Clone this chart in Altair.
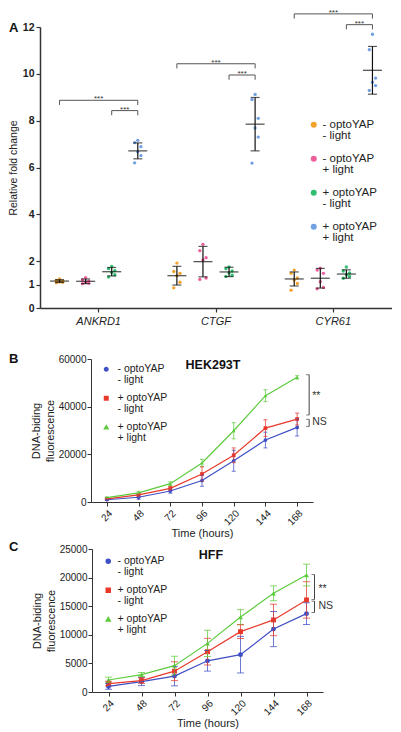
import altair as alt
import pandas as pd

FONT = "Liberation Sans"
INK = "#222222"

# ---------------- Panel A data ----------------
genes = ["ANKRD1", "CTGF", "CYR61"]
conditions = ["- optoYAP|- light", "- optoYAP|+ light", "+ optoYAP|- light", "+ optoYAP|+ light"]
cond_colors = ["#F5A22B", "#EE5E9B", "#30BF70", "#70A0E3"]

ankrd1_points = [
    [1.24, 1.18, 1.15, 1.12, 1.10, 1.08],
    [1.30, 1.20, 1.15, 1.10, 1.06, 1.04],
    [1.78, 1.68, 1.60, 1.52, 1.42, 1.32],
    [7.16, 7.06, 6.89, 6.67, 6.51, 6.20],
]
ctgf_points = [
    [1.92, 1.56, 1.48, 1.38, 1.10, 0.86],
    [2.72, 2.45, 2.15, 2.05, 1.28, 1.22],
    [1.75, 1.68, 1.58, 1.50, 1.40, 1.35],
    [9.12, 8.90, 8.10, 7.69, 7.30, 6.19],
]
cyr61_points = [
    [1.62, 1.48, 1.28, 1.20, 1.05, 0.76],
    [1.70, 1.62, 1.48, 1.12, 0.88, 0.82],
    [1.75, 1.58, 1.50, 1.42, 1.35, 1.27],
    [11.69, 11.03, 9.82, 9.64, 9.50, 9.29],
]
ankrd1_mean = [1.15, 1.14, 1.55, 6.71]
ankrd1_sd = [0.06, 0.10, 0.18, 0.34]
ctgf_mean = [1.38, 1.98, 1.54, 7.85]
ctgf_sd = [0.40, 0.65, 0.20, 1.14]
cyr61_mean = [1.24, 1.27, 1.45, 10.15]
cyr61_sd = [0.30, 0.42, 0.18, 1.02]
bracket_all_y = [8.87, 10.43, 12.56]    # - optoYAP - light  vs  + optoYAP + light
bracket_light_y = [8.43, 9.95, 12.10]   # + optoYAP - light  vs  + optoYAP + light
bracket_labels = ["***", "***", "***"]
jitter_slots = [0, -1, 1, 0, 1, -1]

# ---------------- Panels B / C data ----------------
time_labels = ["24", "48", "72", "96", "120", "144", "168"]
series = ["- optoYAP|- light", "+ optoYAP|- light", "+ optoYAP|+ light"]
series_colors = ["#3F4FC4", "#E8392B", "#5DCB3E"]
series_shapes = ["circle", "square", "triangle-up"]

hek_blue = [950, 2000, 4600, 9000, 17300, 26000, 31300]
hek_blue_err = [300, 900, 900, 2400, 4400, 3300, 3600]
hek_red = [1350, 3000, 5700, 11750, 19600, 31000, 34800]
hek_red_err = [300, 600, 800, 3000, 3100, 3500, 2500]
hek_green = [1800, 3800, 7700, 16400, 29900, 44600, 52300]
hek_green_err = [300, 700, 800, 1500, 3400, 2500, 700]
hek_sig_top = [53400, 34700]
hek_sig_bottom = [36500, 31700]
hek_sig_mid = [44600, 33400]
hek_sig_labels = ["**", "NS"]

hff_blue = [970, 1820, 2780, 5450, 6530, 11000, 13700]
hff_blue_err = [500, 700, 1700, 1800, 3200, 3070, 1900]
hff_red = [1480, 2000, 3640, 7050, 10550, 12600, 16100]
hff_red_err = [400, 500, 1650, 2330, 1200, 2750, 3180]
hff_green = [2100, 3050, 4600, 8500, 13100, 17250, 20450]
hff_green_err = [500, 350, 1650, 2300, 1300, 1300, 1900]
hff_sig_top = [20530, 15880]
hff_sig_bottom = [16160, 13900]
hff_sig_mid = [18030, 15030]
hff_sig_labels = ["**", "NS"]

# ---------------- Panel A ----------------
rows = []
for gene, groups in zip(genes, [ankrd1_points, ctgf_points, cyr61_points]):
    for ci, (cond, vals) in enumerate(zip(conditions, groups)):
        for slot, v in zip(jitter_slots, vals):
            rows.append({"gene": gene, "cond": cond, "value": v, "slot": slot, "cpos": ci + 0.5})
df_pts = pd.DataFrame(rows)

rows = []
for gene, means, sds in zip(genes, [ankrd1_mean, ctgf_mean, cyr61_mean],
                            [ankrd1_sd, ctgf_sd, cyr61_sd]):
    for ci, (cond, m, s) in enumerate(zip(conditions, means, sds)):
        rows.append({"gene": gene, "cond": cond, "mean": m, "lo": m - s, "hi": m + s, "cpos": ci + 0.5})
df_stats = pd.DataFrame(rows)

LEG = 0.2
rows = []
for gene, ya, yl in zip(genes, bracket_all_y, bracket_light_y):
    for bid, c0, c1, yv in [("all", 0, 3, ya), ("light", 2, 3, yl)]:
        p0, p1 = c0 + 0.5, c1 + 0.5
        for seq, (xo, yy) in enumerate([(p0, yv - LEG), (p0, yv), (p1, yv), (p1, yv - LEG)]):
            rows.append({"gene": gene, "bid": gene + bid, "cpos": xo, "y": yy, "seq": seq})
df_br = pd.DataFrame(rows)

rows = []
for gene, ya, yl, lab in zip(genes, bracket_all_y, bracket_light_y, bracket_labels):
    rows.append({"gene": gene, "cpos": 2.0, "y": ya, "label": lab})
    rows.append({"gene": gene, "cpos": 3.0, "y": yl, "label": lab})
df_star = pd.DataFrame(rows)

axisXA = alt.Axis(title=None, labelAngle=0, labelFontStyle="italic", labelFontSize=11,
                  tickSize=4, domainWidth=1.5, tickWidth=1.2, labelPadding=3)
axisYA = alt.Axis(values=[0, 1, 2, 4, 6, 8, 10, 12], title="Relative fold change",
                  labelFontWeight="bold", labelFontSize=10.5, tickSize=4, domainWidth=1.5,
                  tickWidth=1.2, titleFontSize=10.5, titlePadding=4, labelPadding=2)
xA = alt.X("gene:N", sort=genes, scale=alt.Scale(paddingInner=0, paddingOuter=0), axis=axisXA)
xo_scale = alt.Scale(domain=[-0.25, 4.25], nice=False, zero=False)
yscaleA = alt.Scale(domain=[0, 12], nice=False)


def yA(field):
    return alt.Y(f"{field}:Q", scale=yscaleA, axis=axisYA)


legA = alt.Legend(orient="none", legendX=268, legendY=92, title=None,
                  labelExpr="split(datum.label, '|')", labelFontSize=11.5, labelColor=INK,
                  symbolType="circle", symbolSize=36, rowPadding=10, labelOffset=3, padding=0)

pointsA = alt.Chart(df_pts).transform_calculate(
    xo="datum.cpos + datum.slot * 0.12"
).mark_point(filled=True, size=11, opacity=1).encode(
    x=xA, xOffset=alt.XOffset("xo:Q", scale=xo_scale), y=yA("value"),
    color=alt.Color("cond:N", sort=conditions,
                    scale=alt.Scale(domain=conditions, range=cond_colors), legend=legA),
)
statbase = alt.Chart(df_stats)
xoff = alt.XOffset("cpos:Q", scale=xo_scale)
errA = statbase.mark_rule(color="#111", strokeWidth=1.2).encode(
    x=xA, xOffset=xoff, y=yA("lo"), y2="hi:Q")
capLoA = statbase.mark_tick(color="#111", size=9, thickness=1.2).encode(x=xA, xOffset=xoff, y=yA("lo"))
capHiA = statbase.mark_tick(color="#111", size=9, thickness=1.2).encode(x=xA, xOffset=xoff, y=yA("hi"))
meanA = statbase.mark_tick(color="#111", size=19, thickness=1.3).encode(x=xA, xOffset=xoff, y=yA("mean"))
brA = alt.Chart(df_br).mark_line(color="#555", strokeWidth=1).encode(
    x=xA, xOffset=xoff, y=yA("y"), detail="bid:N", order="seq:Q")
starA = alt.Chart(df_star).mark_text(fontSize=8, baseline="alphabetic", dy=1, color="#333").encode(
    x=xA, xOffset=xoff, y=yA("y"), text="label:N")
letterA = alt.Chart(pd.DataFrame({"t": ["A"]})).mark_text(
    align="left", baseline="middle", fontSize=13, fontWeight="bold", color="#111"
).encode(x=alt.value(-31), y=alt.value(1), text="t:N")

panelA = alt.layer(pointsA, errA, capLoA, capHiA, meanA, brA, starA, letterA).properties(
    width=352, height=281)


# ---------------- Panels B / C ----------------
def growth_panel(letter, title, vals, errs, ymax, yticks, sig_top, sig_bottom, sig_mid, sig_labels,
                 width, x_start, height, title_x, bracket_dx, label_dx, legend_x, legend_y,
                 marker_size, cap_size, letter_y, legend_symbol, legend_offset):
    rows = []
    for s, v, e in zip(series, vals, errs):
        for t, vv, ee in zip(time_labels, v, e):
            rows.append({"series": s, "time": t, "value": vv, "lo": vv - ee, "hi": vv + ee})
    df = pd.DataFrame(rows)
    df_sig = pd.DataFrame({"time": [time_labels[-1]] * len(sig_top), "top": sig_top,
                           "bottom": sig_bottom, "mid": sig_mid, "label": sig_labels})

    x = alt.X("time:O", sort=time_labels,
              scale=alt.Scale(type="point", range=[x_start, width], padding=0.5),
              axis=alt.Axis(title="Time (hours)", labelAngle=-45, labelFontSize=10,
                            titleFontSize=11, tickSize=4, titlePadding=1, labelPadding=2))
    yscale = alt.Scale(domain=[0, ymax], nice=False)
    yaxis = alt.Axis(values=yticks, format="d", offset=-x_start, title=["DNA-biding", "fluorescence"],
                     titleLineHeight=14, titleFontSize=11, labelFontSize=10, tickSize=4,
                     labelPadding=1, titlePadding=3)

    def y(f):
        return alt.Y(f"{f}:Q", scale=yscale, axis=yaxis)

    cscale = alt.Scale(domain=series, range=series_colors)
    leg = alt.Legend(orient="none", legendX=legend_x, legendY=legend_y, title=None,
                     labelExpr="split(datum.label, '|')", labelFontSize=10.5, labelColor=INK,
                     symbolSize=legend_symbol, rowPadding=7, labelOffset=legend_offset, padding=0)
    col = alt.Color("series:N", sort=series, scale=cscale, legend=leg)
    base = alt.Chart(df)
    pts = base.mark_point(filled=True, size=marker_size, opacity=1).encode(
        x=x, y=y("value"), color=col,
        shape=alt.Shape("series:N", sort=series,
                        scale=alt.Scale(domain=series, range=series_shapes), legend=leg))
    lines = base.mark_line(strokeWidth=1.2).encode(x=x, y=y("value"), color=col)
    err = base.mark_rule(strokeWidth=1, opacity=0.75).encode(x=x, y=y("lo"), y2="hi:Q", color=col)
    cap_lo = base.mark_tick(size=cap_size, thickness=1, opacity=0.75).encode(x=x, y=y("lo"), color=col)
    cap_hi = base.mark_tick(size=cap_size, thickness=1, opacity=0.75).encode(x=x, y=y("hi"), color=col)
    sbase = alt.Chart(df_sig)
    vert = sbase.mark_rule(xOffset=bracket_dx, color="#444", strokeWidth=1).encode(
        x=x, y=y("top"), y2="bottom:Q")
    t_top = sbase.mark_tick(xOffset=bracket_dx - 1.5, size=3, thickness=1, color="#444").encode(
        x=x, y=y("top"))
    t_bot = sbase.mark_tick(xOffset=bracket_dx - 1.5, size=3, thickness=1, color="#444").encode(
        x=x, y=y("bottom"))
    sig_txt = sbase.mark_text(align="left", baseline="middle", dx=label_dx, fontSize=10.5,
                              color="#333").encode(x=x, y=y("mid"), text="label:N")
    ttl = alt.Chart(pd.DataFrame({"t": [title]})).mark_text(
        fontSize=12.5, fontWeight="bold", baseline="middle", color="#111"
    ).encode(x=alt.value(title_x), y=alt.value(6), text="t:N")
    let = alt.Chart(pd.DataFrame({"t": [letter]})).mark_text(
        align="left", baseline="middle", fontSize=13, fontWeight="bold", color="#111"
    ).encode(x=alt.value(-31), y=alt.value(letter_y), text="t:N")
    return alt.layer(pts, err, cap_lo, cap_hi, lines, vert, t_top, t_bot, sig_txt, ttl, let).properties(
        width=width, height=height)


panelB = growth_panel("B", "HEK293T", [hek_blue, hek_red, hek_green],
                      [hek_blue_err, hek_red_err, hek_green_err],
                      60000, [0, 20000, 40000, 60000], hek_sig_top, hek_sig_bottom, hek_sig_mid,
                      hek_sig_labels, width=273, x_start=51, height=143, title_x=173,
                      bracket_dx=12, label_dx=15, legend_x=61, legend_y=5,
                      marker_size=14, cap_size=4, letter_y=0, legend_symbol=12, legend_offset=6)
panelC = growth_panel("C", "HFF", [hff_blue, hff_red, hff_green],
                      [hff_blue_err, hff_red_err, hff_green_err],
                      25000, [0, 5000, 10000, 15000, 20000, 25000], hff_sig_top, hff_sig_bottom,
                      hff_sig_mid, hff_sig_labels, width=283, x_start=52, height=143, title_x=171,
                      bracket_dx=8, label_dx=12, legend_x=63, legend_y=7,
                      marker_size=24, cap_size=7, letter_y=-2, legend_symbol=16, legend_offset=4)

chart = alt.vconcat(
    panelA,
    alt.vconcat(panelB, panelC, spacing=2).resolve_scale(color="independent", shape="independent"),
    spacing=27,
).resolve_scale(
    color="independent", shape="independent"
).resolve_legend(
    color="independent", shape="independent"
).properties(padding=0).configure(
    font=FONT, style={"guide-label": {"lineHeight": 11}}
).configure_view(stroke=None).configure_axis(
    grid=False, labelColor=INK, titleColor=INK, domainColor="#333", tickColor="#333",
    labelFont=FONT, titleFont=FONT, titleFontWeight="normal"
).configure_legend(labelFont=FONT).configure_text(font=FONT)

chart.save("out.html", embed_options={"renderer": "svg", "actions": False})
